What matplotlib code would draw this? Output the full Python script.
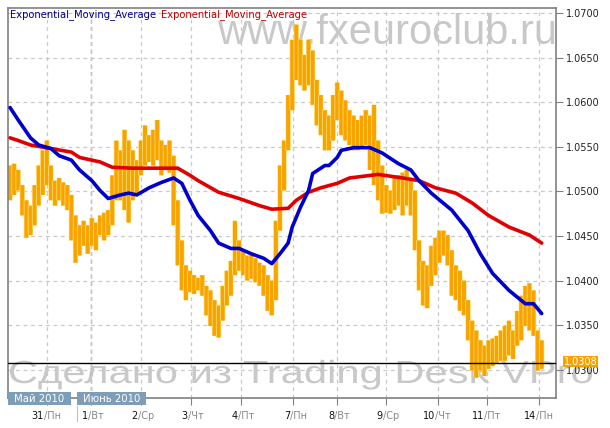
"""EUR/CHF-style hourly bar chart with two EMAs, redrawn from a fxeuroclub.ru screenshot."""
import matplotlib
matplotlib.use("Agg")
import matplotlib.pyplot as plt
import matplotlib.patheffects as pe
import matplotlib.transforms as mtrans
from matplotlib.textpath import TextPath
from matplotlib.patches import PathPatch, Rectangle
from matplotlib.font_manager import FontProperties
import numpy as np

# ---- data ------------------------------------------------------------------
bar_high = [
    1.0529, 1.0531, 1.0524, 1.0507, 1.0490, 1.0484, 1.0507, 1.0529, 1.0546, 1.0557,
    1.0529, 1.0512, 1.0515, 1.0510, 1.0507, 1.0496, 1.0473, 1.0462, 1.0467, 1.0462,
    1.0470, 1.0465, 1.0473, 1.0476, 1.0479, 1.0518, 1.0557, 1.0546, 1.0569, 1.0557,
    1.0546, 1.0535, 1.0557, 1.0574, 1.0563, 1.0569, 1.0580, 1.0557, 1.0552, 1.0557,
    1.0540, 1.0490, 1.0445, 1.0417, 1.0411, 1.0406, 1.0403, 1.0406, 1.0394, 1.0389,
    1.0378, 1.0372, 1.0394, 1.0411, 1.0422, 1.0467, 1.0445, 1.0434, 1.0428, 1.0431,
    1.0425, 1.0420, 1.0417, 1.0406, 1.0400, 1.0467, 1.0529, 1.0557, 1.0608, 1.0670,
    1.0687, 1.0670, 1.0653, 1.0670, 1.0658, 1.0625, 1.0608, 1.0591, 1.0585, 1.0608,
    1.0622, 1.0613, 1.0602, 1.0591, 1.0585, 1.0580, 1.0585, 1.0591, 1.0585, 1.0597,
    1.0557, 1.0529, 1.0507, 1.0501, 1.0515, 1.0518, 1.0521, 1.0524, 1.0515, 1.0501,
    1.0445, 1.0422, 1.0417, 1.0439, 1.0448, 1.0456, 1.0456, 1.0451, 1.0434, 1.0417,
    1.0411, 1.0400, 1.0378, 1.0355, 1.0344, 1.0333, 1.0327, 1.0333, 1.0335, 1.0338,
    1.0344, 1.0349, 1.0355, 1.0344, 1.0366, 1.0383, 1.0394, 1.0397, 1.0389, 1.0344,
    1.0333,
]
bar_low = [
    1.0490, 1.0496, 1.0501, 1.0473, 1.0448, 1.0451, 1.0462, 1.0484, 1.0496, 1.0507,
    1.0490, 1.0484, 1.0490, 1.0484, 1.0479, 1.0445, 1.0420, 1.0428, 1.0439, 1.0430,
    1.0439, 1.0434, 1.0451, 1.0445, 1.0451, 1.0462, 1.0490, 1.0490, 1.0479, 1.0465,
    1.0490, 1.0496, 1.0518, 1.0529, 1.0533, 1.0529, 1.0535, 1.0518, 1.0524, 1.0521,
    1.0462, 1.0417, 1.0389, 1.0378, 1.0387, 1.0385, 1.0389, 1.0383, 1.0361, 1.0349,
    1.0338, 1.0336, 1.0355, 1.0372, 1.0383, 1.0406, 1.0411, 1.0406, 1.0400, 1.0402,
    1.0398, 1.0394, 1.0383, 1.0366, 1.0361, 1.0378, 1.0456, 1.0501, 1.0546, 1.0591,
    1.0625, 1.0619, 1.0613, 1.0619, 1.0597, 1.0574, 1.0563, 1.0546, 1.0546, 1.0557,
    1.0580, 1.0563, 1.0557, 1.0552, 1.0546, 1.0546, 1.0548, 1.0552, 1.0524, 1.0507,
    1.0490, 1.0475, 1.0476, 1.0475, 1.0479, 1.0484, 1.0473, 1.0484, 1.0473, 1.0434,
    1.0389, 1.0372, 1.0369, 1.0394, 1.0406, 1.0420, 1.0428, 1.0417, 1.0383, 1.0378,
    1.0366, 1.0361, 1.0333, 1.0299, 1.0291, 1.0299, 1.0293, 1.0301, 1.0304, 1.0308,
    1.0310, 1.0310, 1.0316, 1.0312, 1.0327, 1.0333, 1.0349, 1.0344, 1.0338, 1.0299,
    1.0301,
]

ema_fast_idx = [0, 2, 5, 7, 10, 12, 15, 17, 20, 22, 24, 27, 29, 31, 34, 37, 40, 42, 44, 46,
                49, 51, 54, 56, 59, 62, 64, 66, 68, 69, 71, 73, 74, 77, 78, 80, 81, 84, 88,
                91, 95, 98, 100, 103, 108, 112, 115, 118, 122, 126, 128, 130]
ema_fast = [1.0594, 1.0580, 1.0560, 1.0552, 1.0548, 1.0540, 1.0535, 1.0524, 1.0512, 1.0501,
            1.0492, 1.0496, 1.0498, 1.0496, 1.0504, 1.0510, 1.0515, 1.0509, 1.0490, 1.0473,
            1.0456, 1.0442, 1.0436, 1.0436, 1.0430, 1.0425, 1.0419, 1.0430, 1.0442, 1.0460,
            1.0482, 1.0501, 1.0520, 1.0529, 1.0529, 1.0538, 1.0546, 1.0549, 1.0549,
            1.0543, 1.0531, 1.0524, 1.0512, 1.0498, 1.0479, 1.0456, 1.0430, 1.0408, 1.0389,
            1.0374, 1.0374, 1.0363]

ema_slow_idx = [0, 2, 5, 10, 15, 17, 22, 25, 30, 35, 41, 44, 46, 51, 56, 61, 64, 68, 70, 73,
                76, 80, 83, 90, 96, 100, 104, 109, 113, 117, 122, 127, 130]
ema_slow = [1.0560, 1.0557, 1.0552, 1.0548, 1.0544, 1.0538, 1.0533, 1.0527, 1.0526, 1.0526,
            1.0526, 1.0518, 1.0512, 1.0499, 1.0492, 1.0484, 1.0480, 1.0481, 1.0490, 1.0499,
            1.0504, 1.0509, 1.0515, 1.0519, 1.0515, 1.0512, 1.0504, 1.0498, 1.0487, 1.0473,
            1.0460, 1.0451, 1.0442]

last_price = 1.0308

day_ticks = [9.0, 19.8, 32.0, 44.2, 56.5, 69.2, 80.0, 91.9, 104.6, 116.6, 129.3]
day_nums = ["31", "1", "2", "3", "4", "7", "8", "9", "10", "11", "14"]
day_names = ["Пн", "Вт", "Ср", "Чт", "Пт", "Пн", "Вт", "Ср", "Чт", "Пт", "Пн"]
month_start_tick = 1  # 1 June
month_labels = ["Май 2010", "Июнь 2010"]

price_ticks = [1.0300, 1.0350, 1.0400, 1.0450, 1.0500, 1.0550, 1.0600, 1.0650, 1.0700]

legend_names = ["Exponential_Moving_Average", "Exponential_Moving_Average"]

# ---- figure ----------------------------------------------------------------
W, H = 610, 428
fig = plt.figure(figsize=(W / 100, H / 100), dpi=100)
fig.patch.set_facecolor("white")
# plot frame: x 8..556, y 8..398 (pixels)
ax = fig.add_axes([8 / W, 1 - 398 / H, 548 / W, 390 / H])
ax.set_xlim(-0.5, 133.5)
ax.set_ylim(1.02683, 1.07056)

ORANGE = "#f7a400"
GLOW = "#ffe98a"
GRID = "#c8c8c8"
FRAME = "#808080"
WM = "#c8c8c8"

for s in ax.spines.values():
    s.set_color(FRAME)
    s.set_linewidth(1.2)

# watermarks
ax.text(0.381, 0.907, "www.fxeuroclub.ru", transform=ax.transAxes, fontsize=30,
        family="Liberation Sans", color=WM, va="baseline", ha="left", zorder=0.5)
# lower one is drawn wide (stretched horizontally) as on the original
wm_path = TextPath((0, 0), "Сделано из Trading Desk VPro", size=32,
                   prop=FontProperties(family="Liberation Sans"))
bb = wm_path.get_extents()
sx = 582 / bb.width
wm_tr = mtrans.Affine2D().scale(sx, 1.0).translate(10 - bb.x0 * sx, H - 383)
ax.add_artist(PathPatch(wm_path, transform=wm_tr, facecolor=WM, edgecolor="none",
                        zorder=0.5, clip_on=False))

# grid
ax.set_yticks(price_ticks)
ax.set_xticks(day_ticks)
ax.grid(True, color=GRID, linestyle=(0, (3, 3)), linewidth=0.9, zorder=1)
ax.axvline(day_ticks[month_start_tick], color="#707070", linestyle=(0, (3, 3)),
           linewidth=0.9, zorder=1.1)

# bars
idx = np.arange(len(bar_high))
ax.vlines(idx, bar_low, bar_high, colors=ORANGE, linewidth=2.9, zorder=2, snap=False,
          path_effects=[pe.withStroke(linewidth=3.8, foreground=GLOW)])

# current price line
ax.axhline(last_price, color="black", linewidth=1.0, zorder=3)

# EMAs
ax.plot(ema_slow_idx, ema_slow, color="#e00000", linewidth=2.6, zorder=4,
        solid_capstyle="round")
ax.plot(ema_fast_idx, ema_fast, color="#0000cc", linewidth=2.6, zorder=5,
        solid_capstyle="round")

# axes / ticks
ax.yaxis.tick_right()
ax.yaxis.set_major_formatter(matplotlib.ticker.FormatStrFormatter("%.4f"))
ax.tick_params(axis="y", length=5, width=0.8, color=FRAME, pad=2, labelsize=7,
               labelcolor="#222222")
ax.tick_params(axis="x", length=5, width=0.8, color=FRAME, labelbottom=False)

# price label box
bt = mtrans.blended_transform_factory(ax.transAxes, ax.transData)
ax.annotate("1.0308", xy=(1.0, last_price), xycoords=bt, xytext=(8, 1),
            textcoords="offset pixels", fontsize=7, color="white",
            va="center", ha="left", zorder=6, annotation_clip=False,
            bbox=dict(boxstyle="square,pad=0.08", fc="#f5a300", ec="none"))

# day labels under axis: number black, weekday grey
xt = mtrans.blended_transform_factory(ax.transData, ax.transAxes)
for x, n, d in zip(day_ticks, day_nums, day_names):
    ax.annotate(n, xy=(x, 0), xycoords=xt, xytext=(-3, -18), textcoords="offset pixels",
                ha="right", va="center", fontsize=7, color="#111111")
    ax.annotate("/" + d, xy=(x, 0), xycoords=xt, xytext=(-3, -18), textcoords="offset pixels",
                ha="left", va="center", fontsize=7, color="#888888")

# month boxes
for (x0, x1), lab in zip([(8, 71), (77, 146)], month_labels):
    fig.add_artist(Rectangle((x0 / W, 1 - 405 / H), (x1 - x0) / W, 13 / H,
                             transform=fig.transFigure, facecolor="#7e9db8",
                             edgecolor="none", zorder=5))
    fig.text((x0 + x1) / 2 / W, 1 - 398.5 / H, lab, fontsize=7.3, color="white",
             va="center", ha="center", zorder=6)
fig.add_artist(plt.Line2D([77 / W, 77 / W], [1 - 406 / H, 1 - 421 / H], color="#c0c0c0",
                          linewidth=0.8))

# legend (two coloured names, side by side)
t1 = fig.text(10 / W, 1 - 15 / H, legend_names[0], fontsize=7.2, color="#000090", va="center")
ax.annotate(legend_names[1], xy=(1, 0), xycoords=t1, xytext=(5, 0),
            textcoords="offset pixels", va="bottom", ha="left", fontsize=7.2, color="#c00000")

fig.savefig("out.png", dpi=100, facecolor="white")
